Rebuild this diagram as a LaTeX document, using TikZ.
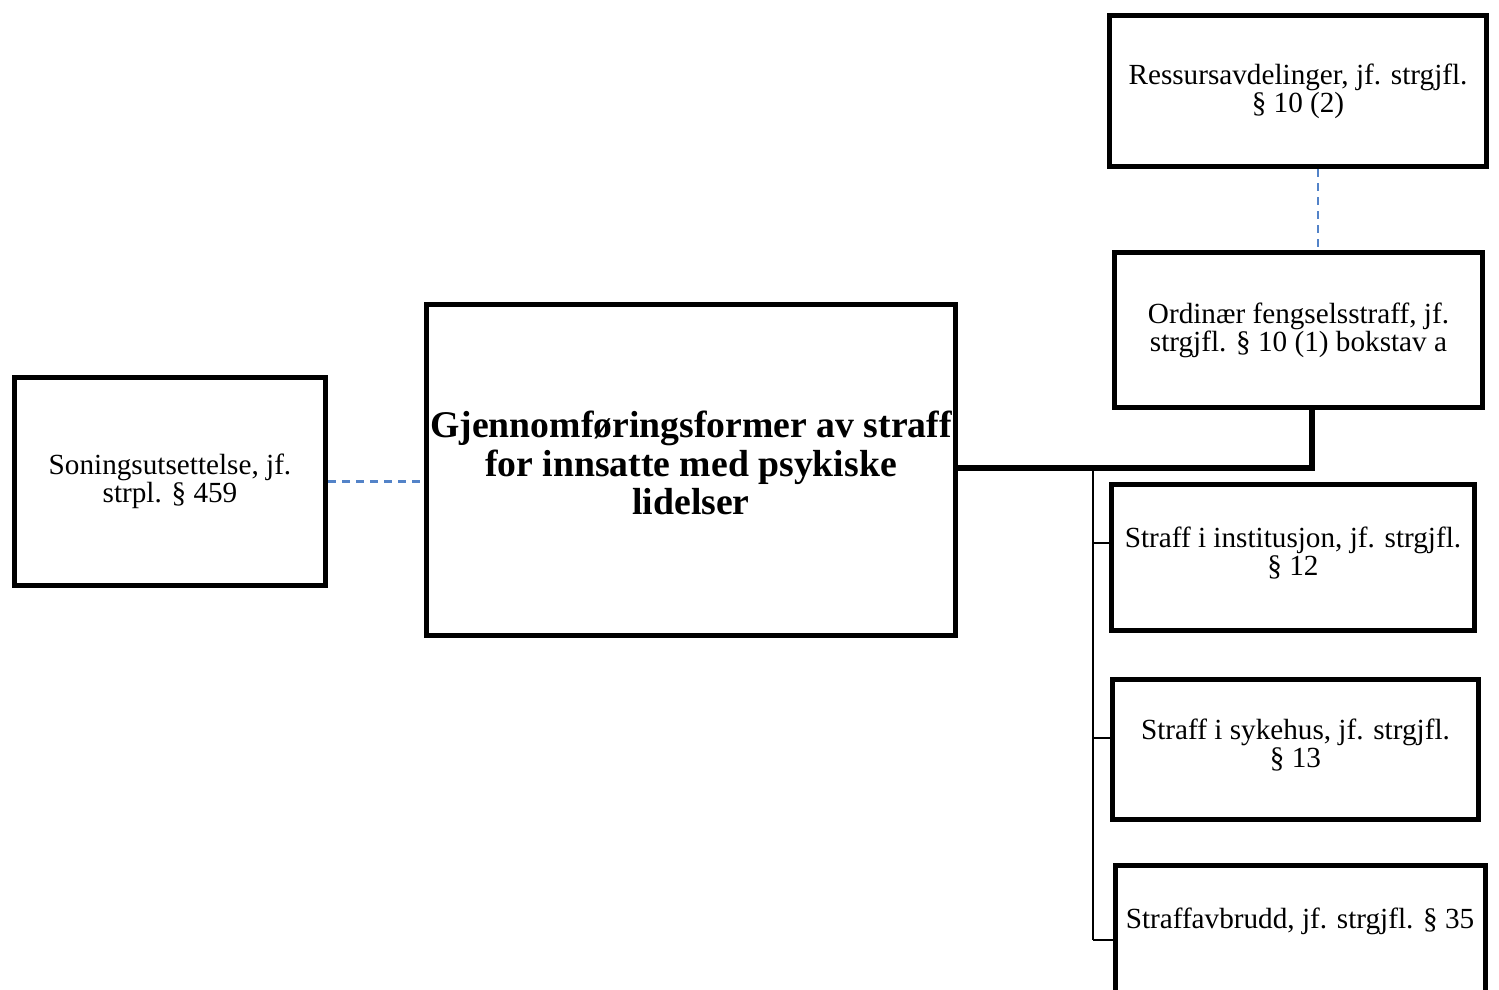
\documentclass[tikz,border=0pt]{standalone}
\usepackage{fontspec}
\setmainfont{Liberation Serif}
\newcommand{\normtxt}{\fontsize{14.6}{14}\selectfont}
\newcommand{\boldtxt}{\fontsize{18.85}{19.25}\selectfont\bfseries}
\definecolor{dashblue}{HTML}{5383C8}
\begin{document}
\begin{tikzpicture}[x=0.5pt,y=-0.5pt,
  box/.style={draw=black, line width=2.6pt, fill=white, inner sep=0pt, align=center, font=\normtxt},
  boxtext/.style={inner sep=0pt, align=center, font=\normtxt},
  bigtext/.style={inner sep=0pt, align=center, font=\boldtxt},
  thickconn/.style={draw=black, line width=2.6pt},
  thinconn/.style={draw=black, line width=1pt},
  dashconn/.style={draw=dashblue, line width=1.2pt, dash pattern=on 4pt off 3pt}]
\useasboundingbox (0,0) rectangle (1499,990);
\clip (0,0) rectangle (1499,990);

\node[box, minimum width=155.5pt, minimum height=104pt] (left) at (170,481.5)
  {Soningsutsettelse, jf.\\strpl. \S\ 459};
\node[box, minimum width=264.5pt, minimum height=165.5pt] (center) at (691,470) {};
\node[bigtext] (centertext) at (691,463)
  {Gjennomføringsformer av straff\\for innsatte med psykiske\\lidelser};
\node[box, minimum width=188.5pt, minimum height=75.5pt] (res) at (1298,91)
  {Ressursavdelinger, jf. strgjfl.\\\S\ 10 (2)};
\node[box, minimum width=184pt, minimum height=77.5pt] (ord) at (1298.5,330)
  {Ordinær fengselsstraff, jf.\\strgjfl. \S\ 10 (1) bokstav a};
\node[box, minimum width=181.5pt, minimum height=73pt] (inst) at (1293,557.5) {};
\node[boxtext] (insttext) at (1293,553) {Straff i institusjon, jf. strgjfl.\\\S\ 12};
\node[box, minimum width=183pt, minimum height=70pt] (syk) at (1295.5,749.5) {};
\node[boxtext] (syktext) at (1295.5,745) {Straff i sykehus, jf. strgjfl.\\\S\ 13};
\node[box, minimum width=185pt, minimum height=75pt] (avb) at (1300.5,940.5) {};
\node[boxtext] (avbtext) at (1300,921) {Straffavbrudd, jf. strgjfl. \S\ 35};

% thick connector to ordinary prison sentence
\coordinate (j) at (1312,468);
\draw[thickconn] (center.east |- j) -- (j) -- (j |- ord.south);

% thin trunk and branches
\coordinate (t) at (1093,468);
\coordinate (b1) at (1093,543);
\coordinate (b2) at (1093,738);
\coordinate (b3) at (1093,940);
\draw[thinconn] (t) -- (b3);
\draw[thinconn] (b1) -- (b1 -| inst.west);
\draw[thinconn] (b2) -- (b2 -| syk.west);
\draw[thinconn] (b3) -- (b3 -| avb.west);

% dashed connectors
\draw[dashconn] (left.east) -- (left.east -| center.west);
\coordinate (d) at (1318,0);
\draw[dashconn] (d |- res.south) -- (d |- ord.north);
\end{tikzpicture}
\end{document}
